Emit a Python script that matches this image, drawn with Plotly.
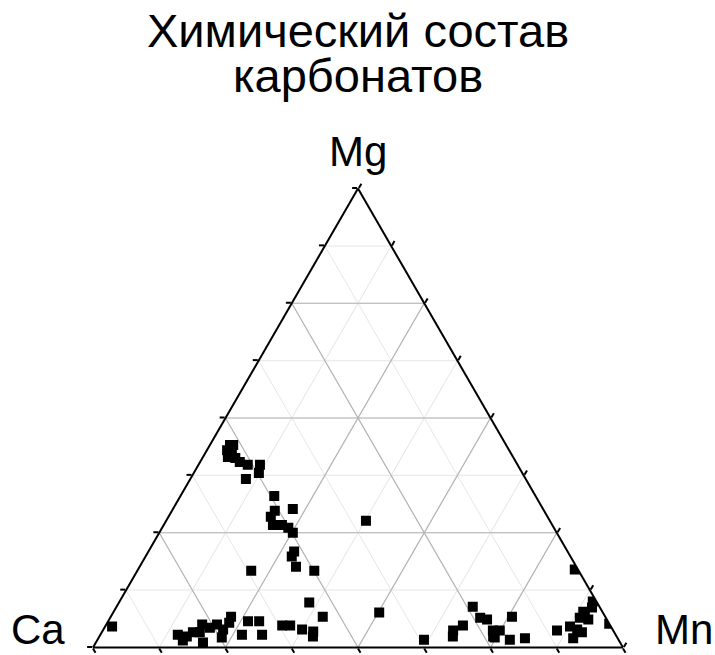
import plotly.graph_objects as go

# Composition of carbonates (fractions): Mg (top), Ca (left), Mn (right)
mg = [0.441, 0.441, 0.430, 0.424, 0.415, 0.413, 0.404, 0.398, 0.398, 0.380,
      0.367, 0.330, 0.302, 0.298, 0.285, 0.267, 0.267, 0.261, 0.250, 0.209,
      0.198, 0.176, 0.167, 0.167, 0.098, 0.067, 0.067, 0.054, 0.057, 0.057,
      0.028, 0.028, 0.039, 0.022, 0.043, 0.050, 0.033, 0.011, 0.033, 0.024,
      0.028, 0.015, 0.048, 0.048, 0.039, 0.035, 0.024, 0.050, 0.046, 0.276,
      0.076, 0.017, 0.170, 0.100, 0.052, 0.078, 0.061, 0.065, 0.039, 0.046,
      0.037, 0.033, 0.020, 0.087, 0.076, 0.089, 0.065, 0.061, 0.048, 0.037,
      0.024, 0.037, 0.037, 0.022, 0.017, 0.020, 0.067, 0.024]
ca = [0.521, 0.515, 0.532, 0.526, 0.538, 0.525, 0.521, 0.509, 0.486, 0.497,
      0.528, 0.493, 0.472, 0.508, 0.522, 0.527, 0.510, 0.501, 0.498, 0.516,
      0.526, 0.529, 0.618, 0.499, 0.543, 0.533, 0.706, 0.716, 0.679, 0.658,
      0.667, 0.705, 0.735, 0.746, 0.758, 0.769, 0.782, 0.787, 0.795, 0.811,
      0.826, 0.823, 0.619, 0.604, 0.586, 0.567, 0.573, 0.741, 0.941, 0.347,
      0.422, 0.367, 0.006, 0.007, 0.000, 0.036, 0.035, 0.049, 0.067, 0.077,
      0.106, 0.061, 0.084, 0.015, 0.034, 0.239, 0.237, 0.226, 0.278, 0.302,
      0.309, 0.227, 0.214, 0.231, 0.205, 0.175, 0.176, 0.233]
mn = [0.038, 0.044, 0.038, 0.050, 0.047, 0.062, 0.075, 0.093, 0.116, 0.123,
      0.105, 0.177, 0.226, 0.194, 0.193, 0.206, 0.223, 0.238, 0.252, 0.275,
      0.276, 0.295, 0.215, 0.334, 0.359, 0.400, 0.227, 0.230, 0.264, 0.285,
      0.305, 0.267, 0.226, 0.232, 0.199, 0.181, 0.185, 0.202, 0.172, 0.165,
      0.146, 0.162, 0.333, 0.348, 0.375, 0.398, 0.403, 0.209, 0.013, 0.377,
      0.502, 0.616, 0.824, 0.893, 0.948, 0.886, 0.904, 0.886, 0.894, 0.877,
      0.857, 0.906, 0.896, 0.898, 0.890, 0.672, 0.698, 0.713, 0.674, 0.661,
      0.667, 0.736, 0.749, 0.747, 0.778, 0.805, 0.757, 0.743]

major_levels = [0.25, 0.5, 0.75]
title_lines = ["Химический состав", "карбонатов"]
vertex_labels = {"top": "Mg", "left": "Ca", "right": "Mn"}

FONT = "Liberation Sans, Arial, sans-serif"

# darker major grid lines (every 1/4)
ga, gb, gc = [], [], []
for v in major_levels:
    ga += [v, v, None]; gb += [1 - v, 0, None]; gc += [0, 1 - v, None]
    ga += [1 - v, 0, None]; gb += [v, v, None]; gc += [0, 1 - v, None]
    ga += [1 - v, 0, None]; gb += [0, 1 - v, None]; gc += [v, v, None]

fig = go.Figure()
fig.add_trace(go.Scatterternary(
    a=ga, b=gb, c=gc, mode="lines",
    line=dict(color="#b4b4b4", width=1.2),
    hoverinfo="skip", showlegend=False))
fig.add_trace(go.Scatterternary(
    a=mg, b=ca, c=mn, mode="markers",
    marker=dict(symbol="square", size=10, color="black", line=dict(width=0)),
    showlegend=False))

ax = dict(showticklabels=False, ticks="outside", ticklen=5, tickwidth=1.5,
          tickcolor="black", tickmode="linear", tick0=0, dtick=0.125,
          showgrid=True, gridcolor="#e6e6e6", gridwidth=1,
          showline=True, linecolor="black", linewidth=2, title=dict(text=""))

fig.update_layout(
    width=715, height=655, autosize=False,
    margin=dict(l=0, r=0, t=0, b=0),
    paper_bgcolor="white", plot_bgcolor="white",
    font=dict(family=FONT, color="black"),
    ternary=dict(
        sum=1,
        domain=dict(x=[93 / 715, 623 / 715], y=[7 / 655, 467 / 655]),
        bgcolor="white",
        aaxis=ax, baxis=ax, caxis=ax,
    ),
    annotations=[
        dict(text=title_lines[0], x=0.5, y=0.953, xref="paper", yref="paper",
             showarrow=False, font=dict(size=47, family=FONT), xanchor="center", yanchor="middle"),
        dict(text=title_lines[1], x=0.5, y=0.884, xref="paper", yref="paper",
             showarrow=False, font=dict(size=47, family=FONT), xanchor="center", yanchor="middle"),
        dict(text=vertex_labels["top"], x=0.5007, y=0.768, xref="paper", yref="paper",
             showarrow=False, font=dict(size=42, family=FONT), xanchor="center", yanchor="middle"),
        dict(text=vertex_labels["left"], x=0.053, y=0.0, xref="paper", yref="paper",
             showarrow=False, font=dict(size=42, family=FONT), xanchor="center", yanchor="bottom"),
        dict(text=vertex_labels["right"], x=0.957, y=0.0, xref="paper", yref="paper",
             showarrow=False, font=dict(size=42, family=FONT), xanchor="center", yanchor="bottom"),
    ],
)

fig.write_html("out.html", config={"displayModeBar": False},
               post_script="document.body.style.margin='0';document.body.style.overflow='hidden';")
